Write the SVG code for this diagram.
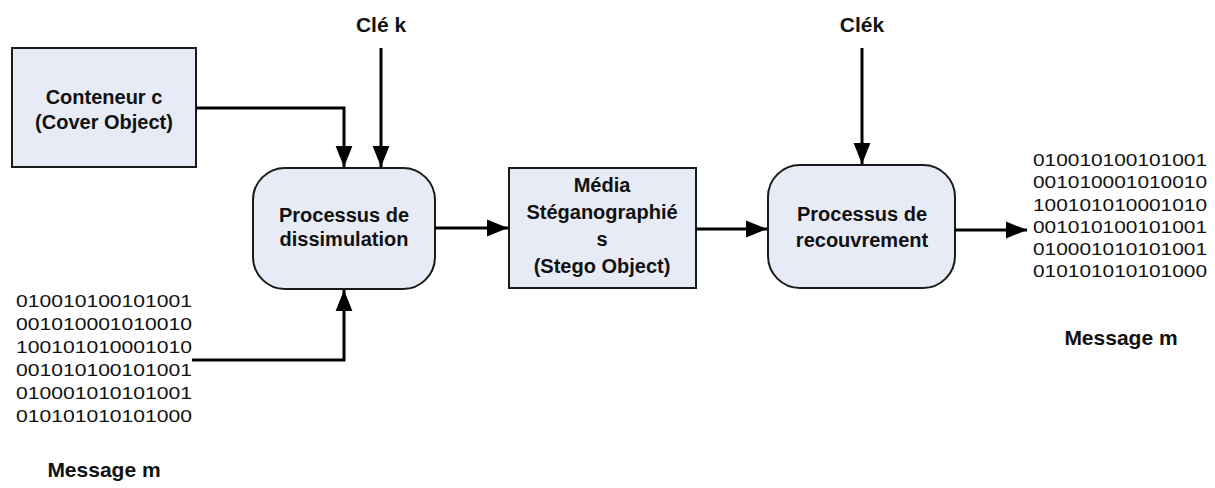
<svg xmlns="http://www.w3.org/2000/svg" width="1215" height="488" viewBox="0 0 1215 488">
  <style>
    .box { fill: #e7ebf5; stroke: #1a1a1a; stroke-width: 2; }
    .lbl { font-family: "Liberation Sans", Arial, sans-serif; font-weight: bold; font-size: 20px; fill: #111; text-anchor: middle; }
    .big { font-size: 21px; }
    .bits { font-family: "Liberation Sans", Arial, sans-serif; font-size: 17px; fill: #111; }
    .wire { fill: none; stroke: #000; stroke-width: 3; }
  </style>
  <defs>
    <marker id="head" viewBox="0 0 10 10" refX="10" refY="5" markerWidth="7" markerHeight="7" markerUnits="strokeWidth" orient="auto">
      <path d="M0,1 L10,5 L0,9 Z" fill="#000"/>
    </marker>
  </defs>

  <!-- key labels -->
  <g id="key-k1">
    <text class="lbl big" x="381" y="32">Clé k</text>
  </g>
  <g id="key-k2">
    <text class="lbl big" x="862" y="32">Clék</text>
  </g>

  <!-- cover object -->
  <g id="cover">
    <rect class="box" x="12" y="48" width="184" height="119"/>
    <text class="lbl" x="104" y="104">Conteneur c</text>
    <text class="lbl" x="104" y="129">(Cover Object)</text>
  </g>

  <!-- embedding process -->
  <g id="embed">
    <rect class="box" x="253" y="168" width="182" height="121" rx="32" ry="32"/>
    <text class="lbl" x="344" y="222">Processus de</text>
    <text class="lbl" x="344" y="246">dissimulation</text>
  </g>

  <!-- stego object -->
  <g id="stego">
    <rect class="box" x="509" y="168" width="187" height="120"/>
    <text class="lbl" x="602" y="192">Média</text>
    <text class="lbl" x="602" y="219">Stéganographié</text>
    <text class="lbl" x="602" y="246">s</text>
    <text class="lbl" x="602" y="273">(Stego Object)</text>
  </g>

  <!-- extraction process -->
  <g id="extract">
    <rect class="box" x="768" y="165" width="187" height="123" rx="32" ry="32"/>
    <text class="lbl" x="862" y="221">Processus de</text>
    <text class="lbl" x="862" y="247">recouvrement</text>
  </g>

  <!-- input message: wide digits, stretched to the column width -->
  <g id="message-in">
    <text class="bits" x="16" y="307" textLength="176" lengthAdjust="spacingAndGlyphs">010010100101001</text>
    <text class="bits" x="16" y="330" textLength="176" lengthAdjust="spacingAndGlyphs">001010001010010</text>
    <text class="bits" x="16" y="353" textLength="176" lengthAdjust="spacingAndGlyphs">100101010001010</text>
    <text class="bits" x="16" y="376" textLength="176" lengthAdjust="spacingAndGlyphs">001010100101001</text>
    <text class="bits" x="16" y="399" textLength="176" lengthAdjust="spacingAndGlyphs">010001010101001</text>
    <text class="bits" x="16" y="422" textLength="176" lengthAdjust="spacingAndGlyphs">010101010101000</text>
    <text class="lbl big" x="104" y="477">Message m</text>
  </g>

  <!-- output message -->
  <g id="message-out">
    <text class="bits" x="1033" y="166" textLength="174" lengthAdjust="spacingAndGlyphs">010010100101001</text>
    <text class="bits" x="1033" y="188" textLength="174" lengthAdjust="spacingAndGlyphs">001010001010010</text>
    <text class="bits" x="1033" y="211" textLength="174" lengthAdjust="spacingAndGlyphs">100101010001010</text>
    <text class="bits" x="1033" y="233" textLength="174" lengthAdjust="spacingAndGlyphs">001010100101001</text>
    <text class="bits" x="1033" y="255" textLength="174" lengthAdjust="spacingAndGlyphs">010001010101001</text>
    <text class="bits" x="1033" y="277" textLength="174" lengthAdjust="spacingAndGlyphs">010101010101000</text>
    <text class="lbl big" x="1121" y="345">Message m</text>
  </g>

  <!-- connectors -->
  <g id="connectors">
    <polyline class="wire" points="196,108 344,108 344,167" marker-end="url(#head)"/>
    <line class="wire" x1="381" y1="48" x2="381" y2="167" marker-end="url(#head)"/>
    <polyline class="wire" points="192,360 344,360 344,290" marker-end="url(#head)"/>
    <line class="wire" x1="435" y1="228" x2="508" y2="228" marker-end="url(#head)"/>
    <line class="wire" x1="696" y1="229" x2="767" y2="229" marker-end="url(#head)"/>
    <line class="wire" x1="862" y1="48" x2="862" y2="164" marker-end="url(#head)"/>
    <line class="wire" x1="955" y1="230" x2="1027" y2="230" marker-end="url(#head)"/>
  </g>
</svg>
